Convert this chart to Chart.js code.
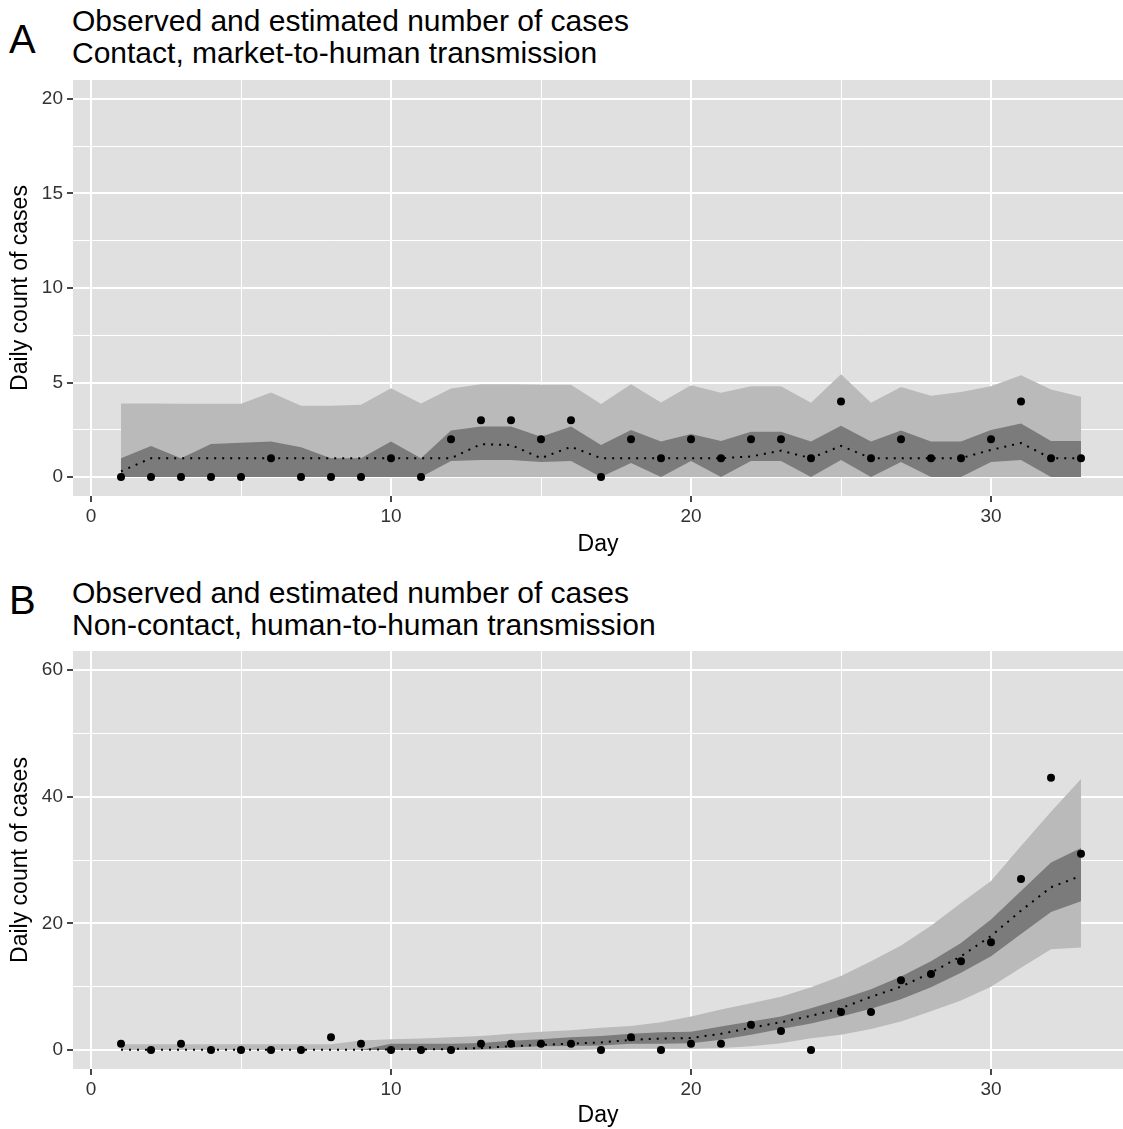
<!DOCTYPE html>
<html>
<head>
<meta charset="utf-8">
<script src="https://cdn.jsdelivr.net/npm/chart.js@4/dist/chart.umd.min.js"></script>
<style>
  body { margin: 0; background: #fff; width: 1123px; height: 1129px; overflow: hidden; position: relative; font-family: "Liberation Sans", Arial, sans-serif; }
  canvas { position: absolute; left: 0; }
  .tag { position: absolute; left: 9px; font-size: 40px; line-height: 40px; color: #000; }
  .ttl { position: absolute; left: 72px; font-size: 30px; line-height: 31.5px; color: #000; white-space: nowrap; }
</style>
</head>
<body>
<div class="tag" style="top:19px">A</div>
<div class="ttl" style="top:5px">Observed and estimated number of cases<br>Contact, market-to-human transmission</div>
<canvas id="chartA" width="1123" height="560" style="top:0"></canvas>

<div class="tag" style="top:580px">B</div>
<div class="ttl" style="top:577px">Observed and estimated number of cases<br>Non-contact, human-to-human transmission</div>
<canvas id="chartB" width="1123" height="558" style="top:571px"></canvas>

<script>
// dias
const days = [1,2,3,4,5,6,7,8,9,10,11,12,13,14,15,16,17,18,19,20,21,22,23,24,25,26,27,28,29,30,31,32,33];

// panel A - contacto
const obsA = [0,0,0,0,0,1,0,0,0,1,0,2,3,3,2,3,0,2,1,2,1,2,2,1,4,1,2,1,1,2,4,1,1];
const medA = [0.3,1,1,1,1,1,1,1,1,1,1,1,1.74,1.7,1,1.6,1,1,1,1,1,1.09,1.4,1,1.65,1,1,1,1,1.44,1.8,1,1];
const darkLoA = [0,0,0,0,0,0,0,0,0,0,0,0.85,0.9,0.9,0.8,0.85,0,0.75,0,0.85,0,0.85,0.85,0,0.9,0,0.8,0,0,0.8,0.9,0,0];
const darkHiA = [1,1.65,1,1.75,1.82,1.88,1.58,1,1,1.88,1,2.46,2.67,2.67,2.14,2.67,1.7,2.49,1.88,2.28,1.91,2.4,2.4,1.88,2.72,1.88,2.46,1.88,1.88,2.49,2.84,1.91,1.91];
const lightLoA = [0,0,0,0,0,0,0,0,0,0,0,0,0,0,0,0,0,0,0,0,0,0,0,0,0,0,0,0,0,0,0,0,0];
const lightHiA = [3.89,3.89,3.88,3.88,3.88,4.47,3.77,3.77,3.82,4.7,3.89,4.68,4.91,4.91,4.89,4.89,3.86,4.91,3.95,4.86,4.46,4.81,4.81,3.93,5.44,3.93,4.77,4.3,4.5,4.81,5.39,4.63,4.25];

// panel B - no contacto
const obsB = [1,0,1,0,0,0,0,2,1,0,0,0,1,1,1,1,0,2,0,1,1,4,3,0,6,6,11,12,14,17,27,43,31];
const medB = [0.05,0.05,0.05,0.05,0.05,0.05,0.05,0.05,0.05,0.1,0.1,0.15,0.3,0.6,0.8,1.0,1.2,1.6,1.8,1.9,2.55,3.5,4.4,5.4,6.6,8.4,10,12.2,14.8,18,22,25.7,27.5];
const darkLoB = [0,0,0,0,0,0,0,0,0,0,0,0,0.1,0.4,0.6,0.65,0.7,1.0,1.0,1.05,1.6,2.4,3.3,4.2,5.3,6.5,8.0,9.9,12.2,14.8,18.3,21.8,23.5];
const darkHiB = [0,0,0,0,0,0,0,0,0,1.0,1.0,1.0,1.1,1.45,1.7,2.0,2.2,2.55,2.8,2.9,3.7,4.5,5.3,6.6,8.0,9.6,11.6,14.0,16.9,20.6,25.1,29.6,31.9];
const lightLoB = [0,0,0,0,0,0,0,0,0,0,0,0,0,0,0,0,0.1,0.2,0.2,0.2,0.3,0.6,1.06,1.85,2.4,3.3,4.5,6.1,7.8,10.0,13.0,15.9,16.2];
const lightHiB = [0.9,0.9,0.9,0.9,0.9,0.9,0.9,0.9,1.5,1.7,1.8,2.0,2.2,2.55,2.9,3.1,3.5,3.8,4.4,5.3,6.4,7.4,8.4,9.9,11.7,14.0,16.5,19.6,23.2,26.7,32.2,37.6,42.8];

// marcas de ejes
const xMajor = [0,10,20,30];
const xMinor = [5,15,25];
const yMajorA = [0,5,10,15,20];
const yMinorA = [2.5,7.5,12.5,17.5];
const yMajorB = [0,20,40,60];
const yMinorB = [10,30,50];

const pts = vals => vals.map((v, i) => ({x: days[i], y: v}));

// fondo gris del panel
const panelBg = {
  id: 'panelBg',
  beforeDraw(chart) {
    const {ctx, chartArea: a} = chart;
    ctx.save();
    ctx.fillStyle = '#e0e0e0';
    ctx.fillRect(a.left, a.top, a.right - a.left, a.bottom - a.top);
    ctx.restore();
  }
};

const axisFont = {family: '"Liberation Sans", Arial, sans-serif', size: 19};
const titleFont = {family: '"Liberation Sans", Arial, sans-serif', size: 23};

const gridFor = major => ({
  color: '#ffffff',
  lineWidth: c => (c.tick && major.includes(c.tick.value)) ? 2 : 1,
  tickColor: c => (c.tick && major.includes(c.tick.value)) ? '#333333' : 'rgba(0,0,0,0)',
  tickWidth: 1.8,
  tickLength: 6
});

const makePanel = (canvas, obs, med, dLo, dHi, lLo, lHi, yMin, yMax, yMajor, yMinor, xHeight, dayPad) => {
  new Chart(document.getElementById(canvas), {
    type: 'line',
    data: {
      datasets: [
        {data: pts(lLo), borderWidth: 0, pointRadius: 0, fill: false, order: 4},
        {data: pts(lHi), borderWidth: 0, pointRadius: 0, fill: '-1', backgroundColor: '#bababa', order: 4},
        {data: pts(dLo), borderWidth: 0, pointRadius: 0, fill: false, order: 3},
        {data: pts(dHi), borderWidth: 0, pointRadius: 0, fill: '-1', backgroundColor: '#7b7b7b', order: 3},
        {data: pts(med), borderColor: '#000', borderWidth: 2, borderDash: [2, 6], pointRadius: 0, fill: false, order: 1},
        {data: pts(obs), showLine: false, pointRadius: 4, pointBackgroundColor: '#000', pointBorderWidth: 0, order: 0}
      ]
    },
    options: {
      responsive: false,
      animation: false,
      events: [],
      layout: {autoPadding: false, padding: {top: 80, left: 0, right: 0, bottom: 0}},
      plugins: {legend: {display: false}, tooltip: {enabled: false}},
      scales: {
        x: {
          type: 'linear', min: -0.6, max: 34.4,
          border: {display: false},
          grid: gridFor(xMajor),
          afterBuildTicks: s => { s.ticks = xMajor.concat(xMinor).sort((a, b) => a - b).map(v => ({value: v})); },
          afterFit: s => { s.height = xHeight; },
          ticks: {autoSkip: false, maxRotation: 0, padding: 3, color: '#333333', font: axisFont,
                  callback: v => xMajor.includes(v) ? String(v) : ''},
          title: {display: true, text: 'Day', color: '#000', font: titleFont, padding: {top: 0, bottom: dayPad}}
        },
        y: {
          type: 'linear', min: yMin, max: yMax,
          border: {display: false},
          grid: gridFor(yMajor),
          afterBuildTicks: s => { s.ticks = yMajor.concat(yMinor).sort((a, b) => a - b).map(v => ({value: v})); },
          afterFit: s => { s.width = 73; },
          ticks: {autoSkip: false, padding: 4, color: '#333333', font: axisFont,
                  callback: v => yMajor.includes(v) ? String(v) : ''},
          title: {display: true, text: 'Daily count of cases', color: '#000', font: titleFont, padding: {top: 7, bottom: 0}}
        }
      }
    },
    plugins: [panelBg]
  });
};

makePanel('chartA', obsA, medA, darkLoA, darkHiA, lightLoA, lightHiA, -1, 21, yMajorA, yMinorA, 64, 2);
makePanel('chartB', obsB, medB, darkLoB, darkHiB, lightLoB, lightHiB, -3, 63, yMajorB, yMinorB, 60, 0);
</script>
</body>
</html>
